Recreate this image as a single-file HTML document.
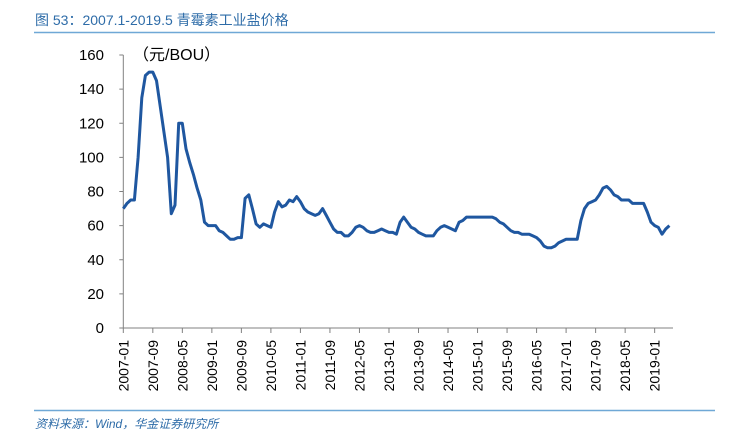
<!DOCTYPE html>
<html><head><meta charset="utf-8"><style>
body{margin:0;background:#fff;width:732px;height:432px;overflow:hidden;font-family:"Liberation Sans","Noto Sans CJK SC",sans-serif}
</style></head><body>
<svg width="732" height="432" xmlns="http://www.w3.org/2000/svg">
<text x="35" y="25" font-size="14" fill="#2e6ca8" font-family="Liberation Sans, Noto Sans CJK SC, sans-serif">图 53：2007.1-2019.5 青霉素工业盐价格</text>
<line x1="34" y1="32.5" x2="715" y2="32.5" stroke="#6fa8d6" stroke-width="1.5"/>
<text x="133" y="60" font-size="16" fill="#000">（元/BOU）</text>
<g id="axes"></g>
<g id="series"></g>
<line x1="34" y1="410.5" x2="715" y2="410.5" stroke="#6fa8d6" stroke-width="1.5"/>
<text x="35" y="428" font-size="12" font-style="italic" fill="#2e6ca8">资料来源：Wind，华金证券研究所</text>
</svg>
<script>
const values=[70,73,75,75,100,135,148,150,150,145,130,115,100,67,72,120,120,105,97,90,82,75,62,60,60,60,57,56,54,52,52,53,53,76,78,70,61,59,61,60,59,68,74,71,72,75,74,77,74,70,68,67,66,67,70,66,62,58,56,56,54,54,56,59,60,59,57,56,56,57,58,57,56,56,55,62,65,62,59,58,56,55,54,54,54,57,59,60,59,58,57,62,63,65,65,65,65,65,65,65,65,64,62,61,59,57,56,56,55,55,55,54,53,51,48,47,47,48,50,51,52,52,52,52,63,70,73,74,75,78,82,83,81,78,77,75,75,75,73,73,73,73,68,62,60,59,55,58,60];
const yTicks=[0,20,40,60,80,100,120,140,160];
const categories=values.map((v,i)=>{const y=2007+Math.floor(i/12),m=i%12+1;return y+'-'+(m<10?'0':'')+m;});
const tickLabels=categories.filter((c,i)=>i%8===0);
const NS='http://www.w3.org/2000/svg';
const x0=123.3,pxm=3.69,yb=328,yt=55;
const X=i=>x0+i*pxm;
const Y=v=>yb-(v/160)*(yb-yt);
const axes=document.getElementById('axes');
function mk(t,a){const e=document.createElementNS(NS,t);for(const k in a)e.setAttribute(k,a[k]);return e;}
let yl=mk('line',{x1:x0,y1:yt,x2:x0,y2:yb,stroke:'#808080','stroke-width':1});


axes.appendChild(yl);
let xl=mk('line',{x1:x0,y1:yb,x2:673,y2:yb,stroke:'#808080','stroke-width':1});


axes.appendChild(xl);
yTicks.forEach(v=>{
  const tk=mk('line',{x1:x0-4,y1:Y(v),x2:x0,y2:Y(v),stroke:'#808080'});
  
  
  axes.appendChild(tk);
  const t=mk('text',{x:104,y:Y(v)+5,'font-size':15,'text-anchor':'end',fill:'#000'});
  
  
  t.textContent=v;axes.appendChild(t);
});
tickLabels.forEach(lab=>{
  const i=categories.indexOf(lab);
  const tk=mk('line',{x1:X(i),y1:yb,x2:X(i),y2:yb+5,stroke:'#808080'});
  
  
  axes.appendChild(tk);
  const t=mk('text',{x:0,y:0,'font-size':14,'text-anchor':'end',fill:'#000',transform:`translate(${X(i)+5},${yb+12}) rotate(-90)`});
  
  
  t.textContent=lab;axes.appendChild(t);
});
const p=mk('polyline',{points:values.map((v,i)=>X(i).toFixed(1)+','+Y(v).toFixed(1)).join(' '),fill:'none',stroke:'#1f57a0','stroke-width':3,'stroke-linejoin':'round'});


document.getElementById('series').appendChild(p);
</script>
</body></html>
